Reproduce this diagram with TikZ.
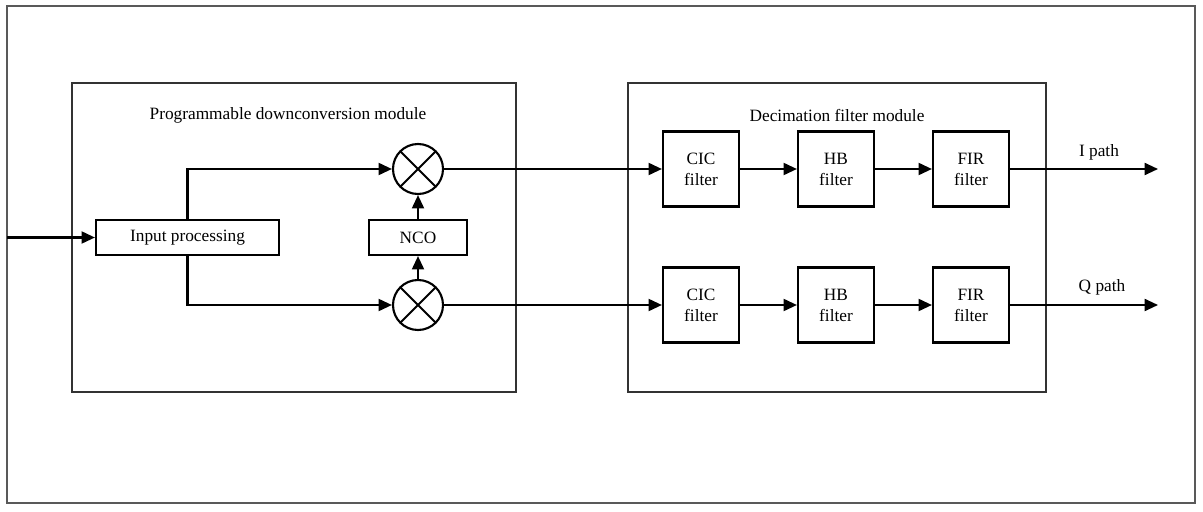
\documentclass[tikz,border=0pt]{standalone}
\usepackage{fontspec}
\setmainfont{Liberation Serif}
\usetikzlibrary{arrows.meta}

\begin{document}
\begin{tikzpicture}[x=0.025cm, y=-0.025cm,
    font=\fontsize{12.3}{15}\selectfont,
    frame/.style={draw=black!65, line width=1.3pt},
    module/.style={draw=black!80, line width=1.3pt},
    block/.style={draw, line width=1.5pt, minimum width=1.9cm, minimum height=1.875cm,
                  align=center, inner sep=0pt},
    wide/.style={draw, line width=1.5pt, minimum height=0.875cm, inner sep=0pt},
    mixer/.style={draw, circle, line width=1.5pt, minimum size=1.25cm, inner sep=0pt,
                  path picture={\draw[line width=1.5pt]
                    (path picture bounding box.north west) -- (path picture bounding box.south east)
                    (path picture bounding box.north east) -- (path picture bounding box.south west);}},
    link/.style={line width=1.5pt, -{Triangle[length=9.5pt, width=8.5pt]}}]
\useasboundingbox (0,0) rectangle (1203,512);

\draw [frame] (7, 6) rectangle (1195, 503);
\draw [module] (72, 83) rectangle (516, 392);
\draw [module] (628, 83) rectangle (1046, 392);

\node (pdmtitle) at (288, 115) {Programmable downconversion module};
\node (dfmtitle) at (837, 115) {Decimation filter module};

% downconversion
\coordinate (input) at (7, 237.5);
\node [wide, minimum width=4.575cm] (inproc) at (187.5, 237.5) {Input processing};
\node [wide, minimum width=2.45cm] (nco) at (418, 237.5) {NCO};
\node [mixer] (mixI) at (418, 169) {};
\node [mixer] (mixQ) at (418, 305) {};

% decimation filters
\node [block] (cicI) at (701, 169) {CIC\\filter};
\node [block] (hbI)  at (836, 169) {HB\\filter};
\node [block] (firI) at (971, 169) {FIR\\filter};
\node [block] (cicQ) at (701, 305) {CIC\\filter};
\node [block] (hbQ)  at (836, 305) {HB\\filter};
\node [block] (firQ) at (971, 305) {FIR\\filter};

\coordinate (outI) at (1158, 169);
\coordinate (outQ) at (1158, 305);
\node (ilabel) at (1099, 152) {I path};
\node (qlabel) at (1102, 287) {Q path};

\draw [link] (input) -- (inproc.west);
\draw [link] (inproc.north) |- (mixI.west);
\draw [link] (inproc.south) |- (mixQ.west);
\draw [link] (mixQ.north) -- (nco.south);
\draw [link] (nco.north) -- (mixI.south);

\draw [link] (mixI.east) -- (cicI.west);
\draw [link] (cicI.east) -- (hbI.west);
\draw [link] (hbI.east) -- (firI.west);
\draw [link] (firI.east) -- (outI);

\draw [link] (mixQ.east) -- (cicQ.west);
\draw [link] (cicQ.east) -- (hbQ.west);
\draw [link] (hbQ.east) -- (firQ.west);
\draw [link] (firQ.east) -- (outQ);
\end{tikzpicture}
\end{document}
